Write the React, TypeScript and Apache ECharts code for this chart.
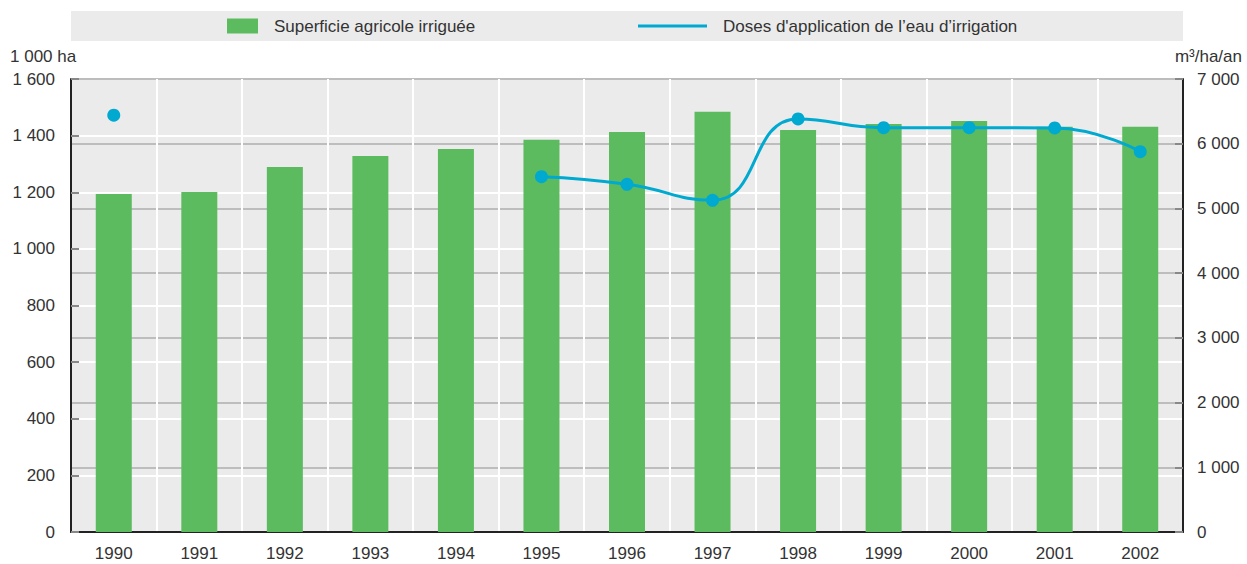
import React, { useEffect, useRef } from "react";
import * as echarts from "echarts";

const years = ["1990", "1991", "1992", "1993", "1994", "1995", "1996", "1997", "1998", "1999", "2000", "2001", "2002"];
const irrigatedArea = [1194, 1201, 1289, 1328, 1353, 1385, 1413, 1484, 1420, 1441, 1452, 1431, 1431];
const waterDoses: (number | null)[] = [6440, null, null, null, null, 5490, 5373, 5126, 6382, 6248, 6248, 6243, 5877];
const leftTicks = { min: 0, max: 1600, interval: 200 };
const rightTicks = { min: 0, max: 7000, interval: 1000 };

const seriesNames = ["Superficie agricole irriguée", "Doses d'application de l’eau d’irrigation"];
const leftUnit = "1 000 ha";
const rightUnit = "m³/ha/an";

const FONT = "'Liberation Sans', Arial, sans-serif";
const TEXT = "#333333";
const fmt = (v: number) => String(v).replace(/\B(?=(\d{3})+(?!\d))/g, " ");

export default function App() {
  const ref = useRef<HTMLDivElement>(null);
  useEffect(() => {
    if (!ref.current) return;
    const chart = echarts.init(ref.current, null, { renderer: "svg" });
    chart.setOption({
      animation: false,
      backgroundColor: "#ffffff",
      textStyle: { fontFamily: FONT, color: TEXT },
      graphic: [
        { type: "rect", left: 71, top: 11, shape: { width: 1112, height: 30 }, style: { fill: "#ebebeb" }, z: -10 },
        { type: "text", left: 10, top: 48, style: { text: leftUnit, font: `17px ${FONT}`, fill: TEXT } },
        { type: "text", right: 5, top: 48, style: { text: rightUnit, font: `17px ${FONT}`, fill: TEXT } },
      ],
      legend: [
        {
          data: [seriesNames[0]],
          left: 227,
          top: 16,
          padding: 0,
          itemWidth: 31,
          itemHeight: 15,
          icon: "rect",
          textStyle: { fontFamily: FONT, fontSize: 17, color: TEXT, padding: [0, 0, 0, 11], lineHeight: 20 },
        },
        {
          data: [seriesNames[1]],
          left: 638,
          top: 16,
          padding: 0,
          itemWidth: 69,
          itemHeight: 3,
          icon: "rect",
          textStyle: { fontFamily: FONT, fontSize: 17, color: TEXT, padding: [0, 0, 0, 11], lineHeight: 20 },
        },
      ],
      grid: {
        left: 71,
        right: 64,
        top: 79,
        bottom: 32,
        containLabel: false,
        outerBoundsMode: "none",
        show: true,
        backgroundColor: "#ebebeb",
        borderWidth: 0,
      },
      xAxis: {
        type: "category",
        data: years,
        boundaryGap: true,
        axisLine: { lineStyle: { color: "#222", width: 2 } },
        axisTick: { inside: true, length: 6, lineStyle: { color: "#666", width: 1 } },
        axisLabel: { fontFamily: FONT, fontSize: 17, color: TEXT, margin: 13 },
        splitLine: { show: true, lineStyle: { color: "#ffffff", width: 2 } },
      },
      yAxis: [
        {
          type: "value",
          ...leftTicks,
          position: "left",
          axisLine: { show: true, lineStyle: { color: "#222", width: 2 } },
          axisTick: { show: true, inside: true, length: 8, lineStyle: { color: "#888", width: 2 } },
          axisLabel: { fontFamily: FONT, fontSize: 17, color: TEXT, margin: 16, formatter: (v: number) => fmt(v) },
          splitLine: { show: true, lineStyle: { color: "#ffffff", width: 2 } },
        },
        {
          type: "value",
          ...rightTicks,
          position: "right",
          axisLine: { show: true, lineStyle: { color: "#222", width: 2 } },
          axisTick: { show: true, inside: true, length: 8, lineStyle: { color: "#888", width: 2 } },
          axisLabel: { fontFamily: FONT, fontSize: 17, color: TEXT, margin: 14, formatter: (v: number) => fmt(v) },
          splitLine: { show: true, lineStyle: { color: "#bdbdbd", width: 2 } },
        },
      ],
      series: [
        {
          name: seriesNames[0],
          type: "bar",
          yAxisIndex: 0,
          data: irrigatedArea,
          barWidth: 36,
          itemStyle: { color: "#5cbb5f" },
        },
        {
          name: seriesNames[1],
          type: "line",
          yAxisIndex: 1,
          data: waterDoses,
          smooth: 0.5,
          connectNulls: false,
          symbol: "circle",
          symbolSize: 13,
          showSymbol: true,
          showAllSymbol: true,
          lineStyle: { color: "#00a9cf", width: 3 },
          itemStyle: { color: "#00a9cf" },
          z: 5,
        },
      ],
    });
    return () => chart.dispose();
  }, []);
  return <div ref={ref} style={{ position: "absolute", left: 0, top: 0, width: 1247, height: 564 }} />;
}
